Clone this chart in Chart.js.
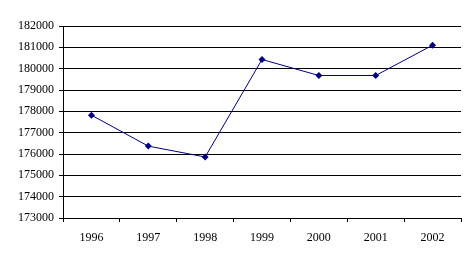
<!DOCTYPE html>
<html>
<head>
<meta charset="utf-8">
<script src="https://cdn.jsdelivr.net/npm/chart.js@4"></script>
<style>
  html, body { margin: 0; padding: 0; background: #fff; }
  #wrap { width: 476px; height: 263px; }
</style>
</head>
<body>
<div id="wrap"><canvas id="chart" width="476" height="263"></canvas></div>
<script>
// Данные
const years = ["1996", "1997", "1998", "1999", "2000", "2001", "2002"];
const values = [177820, 176370, 175860, 180430, 179680, 179680, 181100];
const yMin = 173000;
const yMax = 182000;
const yStep = 1000;

const ctx = document.getElementById("chart").getContext("2d");

new Chart(ctx, {
  type: "line",
  data: {
    labels: years,
    datasets: [
      {
        data: values,
        borderColor: "#000080",
        backgroundColor: "#000080",
        borderWidth: 1,
        pointStyle: "rectRot",
        pointRadius: 3.5,
        pointBorderWidth: 0,
        tension: 0,
      },
    ],
  },
  options: {
    responsive: false,
    animation: false,
    layout: { padding: { top: 26, right: 15, bottom: 0, left: 0 } },
    plugins: { legend: { display: false }, tooltip: { enabled: false } },
    scales: {
      x: {
        offset: true,
        grid: {
          offset: true,
          drawOnChartArea: false,
          drawTicks: true,
          tickLength: 4,
          color: "#000",
        },
        border: { color: "#000", width: 1 },
        ticks: {
          color: "#000",
          padding: 9,
          font: { family: "Liberation Serif", size: 12 },
          maxRotation: 0,
        },
        afterFit: (s) => { s.height = 45; },
      },
      y: {
        min: yMin,
        max: yMax,
        grid: { color: "#000", lineWidth: 1, tickLength: 4 },
        border: { color: "#000", width: 1 },
        ticks: {
          stepSize: yStep,
          color: "#000",
          padding: 5,
          font: { family: "Liberation Serif", size: 12 },
          callback: (v) => String(v),
        },
        afterFit: (s) => { s.width = 63; },
      },
    },
  },
});
</script>
</body>
</html>
